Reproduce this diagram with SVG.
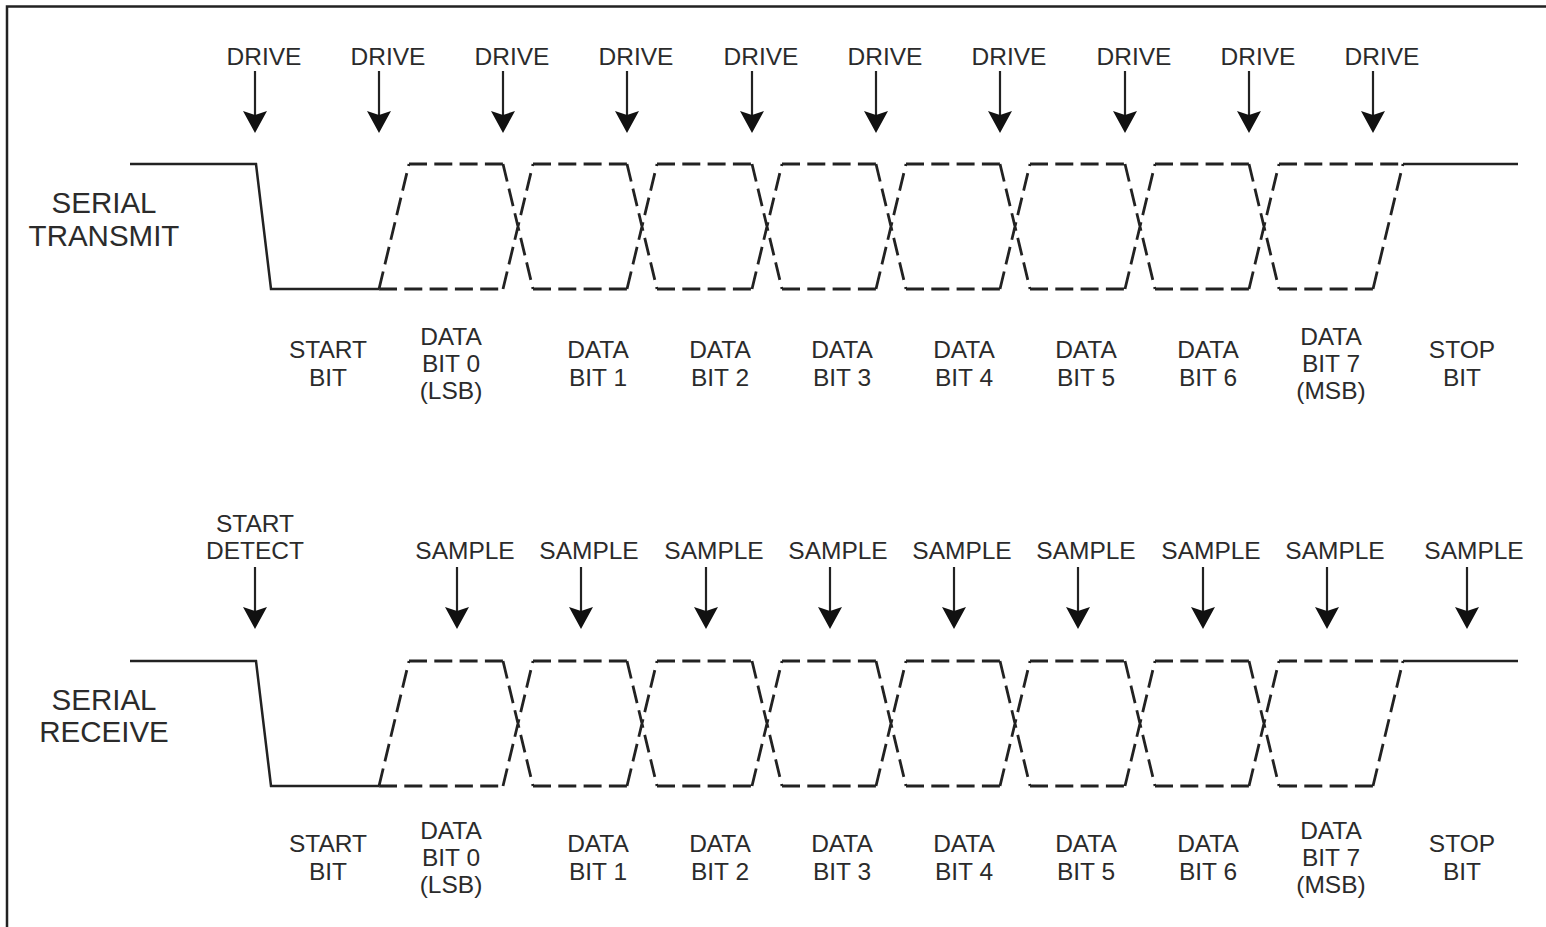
<svg xmlns="http://www.w3.org/2000/svg" xmlns:xlink="http://www.w3.org/1999/xlink" width="1546" height="927" viewBox="0 0 1546 927">
<style>
.t{font-family:"Liberation Sans",Arial,sans-serif;font-size:24.5px;fill:#2b2b2b;text-anchor:middle}
.s{font-family:"Liberation Sans",Arial,sans-serif;font-size:29.5px;fill:#2b2b2b;text-anchor:middle}
.solid{fill:none;stroke:#222;stroke-width:2.5;stroke-linejoin:miter}
.dash{fill:none;stroke:#222;stroke-width:2.8;stroke-dasharray:18 7.3}
.al{stroke:#222;stroke-width:2.2}
.ah{fill:#111}
.frame{fill:none;stroke:#222;stroke-width:2.5}
</style>
<defs>
<g id="arrowTop"><line class="al" x1="0" y1="71" x2="0" y2="116"/><path class="ah" d="M-12,111 L0,115 L12,111 L0,133 Z"/></g>
<g id="arrowBot"><line class="al" x1="0" y1="567" x2="0" y2="612"/><path class="ah" d="M-12,607 L0,611 L12,607 L0,629 Z"/></g>
<g id="dashTrain">
<path class="dash" d="M379,289 L409,164 M409,164 H503 M533,164 H627 M657,164 H752 M782,164 H876 M906,164 H1000 M1030,164 H1125 M1155,164 H1249 M1279,164 H1403 M379,289 H503 M533,289 H627 M657,289 H752 M782,289 H876 M906,289 H1000 M1030,289 H1125 M1155,289 H1249 M1279,289 H1373 M1373,289 L1403,164 M503,164 L533,289 M503,289 L533,164 M627,164 L657,289 M627,289 L657,164 M752,164 L782,289 M752,289 L782,164 M876,164 L906,289 M876,289 L906,164 M1000,164 L1030,289 M1000,289 L1030,164 M1125,164 L1155,289 M1125,289 L1155,164 M1249,164 L1279,289 M1249,289 L1279,164"/>
<path class="solid" d="M130,164 H256 L271,289 H379 M1403,164 H1518"/>
</g>
</defs>
<g id="frame"><path class="frame" d="M7,927 V6.5 H1546"/></g>

<g id="connectors">
<g id="wave-transmit"><use xlink:href="#dashTrain"/></g>
<g id="wave-receive"><use xlink:href="#dashTrain" transform="translate(0,497)"/></g>
<g id="drive-arrows">
<use xlink:href="#arrowTop" x="255"/><use xlink:href="#arrowTop" x="379"/><use xlink:href="#arrowTop" x="503"/><use xlink:href="#arrowTop" x="627"/><use xlink:href="#arrowTop" x="752"/><use xlink:href="#arrowTop" x="876"/><use xlink:href="#arrowTop" x="1000"/><use xlink:href="#arrowTop" x="1125"/><use xlink:href="#arrowTop" x="1249"/><use xlink:href="#arrowTop" x="1373"/>
</g>
<g id="sample-arrows">
<use xlink:href="#arrowBot" x="255"/><use xlink:href="#arrowBot" x="457"/><use xlink:href="#arrowBot" x="581"/><use xlink:href="#arrowBot" x="706"/><use xlink:href="#arrowBot" x="830"/><use xlink:href="#arrowBot" x="954"/><use xlink:href="#arrowBot" x="1078"/><use xlink:href="#arrowBot" x="1203"/><use xlink:href="#arrowBot" x="1327"/><use xlink:href="#arrowBot" x="1467"/>
</g>
</g>

<g id="label-serial-transmit"><text class="s" x="104" y="213">SERIAL</text><text class="s" x="104" y="246">TRANSMIT</text></g>
<g id="label-serial-receive"><text class="s" x="104" y="710">SERIAL</text><text class="s" x="104" y="742">RECEIVE</text></g>

<g id="drive-labels">
<text class="t" x="264" y="65">DRIVE</text><text class="t" x="388" y="65">DRIVE</text><text class="t" x="512" y="65">DRIVE</text><text class="t" x="636" y="65">DRIVE</text><text class="t" x="761" y="65">DRIVE</text><text class="t" x="885" y="65">DRIVE</text><text class="t" x="1009" y="65">DRIVE</text><text class="t" x="1134" y="65">DRIVE</text><text class="t" x="1258" y="65">DRIVE</text><text class="t" x="1382" y="65">DRIVE</text>
</g>

<g id="start-detect"><text class="t" x="255" y="532">START</text><text class="t" x="255" y="559">DETECT</text></g>
<g id="sample-labels">
<text class="t" x="465" y="559">SAMPLE</text><text class="t" x="589" y="559">SAMPLE</text><text class="t" x="714" y="559">SAMPLE</text><text class="t" x="838" y="559">SAMPLE</text><text class="t" x="962" y="559">SAMPLE</text><text class="t" x="1086" y="559">SAMPLE</text><text class="t" x="1211" y="559">SAMPLE</text><text class="t" x="1335" y="559">SAMPLE</text><text class="t" x="1474" y="559">SAMPLE</text>
</g>

<g id="bit-labels-transmit">
<g id="tx-start"><text class="t" x="328" y="358">START</text><text class="t" x="328" y="386">BIT</text></g>
<g id="tx-b0"><text class="t" x="451" y="345">DATA</text><text class="t" x="451" y="372">BIT 0</text><text class="t" x="451" y="399">(LSB)</text></g>
<g id="tx-b1"><text class="t" x="598" y="358">DATA</text><text class="t" x="598" y="386">BIT 1</text></g>
<g id="tx-b2"><text class="t" x="720" y="358">DATA</text><text class="t" x="720" y="386">BIT 2</text></g>
<g id="tx-b3"><text class="t" x="842" y="358">DATA</text><text class="t" x="842" y="386">BIT 3</text></g>
<g id="tx-b4"><text class="t" x="964" y="358">DATA</text><text class="t" x="964" y="386">BIT 4</text></g>
<g id="tx-b5"><text class="t" x="1086" y="358">DATA</text><text class="t" x="1086" y="386">BIT 5</text></g>
<g id="tx-b6"><text class="t" x="1208" y="358">DATA</text><text class="t" x="1208" y="386">BIT 6</text></g>
<g id="tx-b7"><text class="t" x="1331" y="345">DATA</text><text class="t" x="1331" y="372">BIT 7</text><text class="t" x="1331" y="399">(MSB)</text></g>
<g id="tx-stop"><text class="t" x="1462" y="358">STOP</text><text class="t" x="1462" y="386">BIT</text></g>
</g>

<g id="bit-labels-receive">
<g id="rx-start"><text class="t" x="328" y="852">START</text><text class="t" x="328" y="880">BIT</text></g>
<g id="rx-b0"><text class="t" x="451" y="839">DATA</text><text class="t" x="451" y="866">BIT 0</text><text class="t" x="451" y="893">(LSB)</text></g>
<g id="rx-b1"><text class="t" x="598" y="852">DATA</text><text class="t" x="598" y="880">BIT 1</text></g>
<g id="rx-b2"><text class="t" x="720" y="852">DATA</text><text class="t" x="720" y="880">BIT 2</text></g>
<g id="rx-b3"><text class="t" x="842" y="852">DATA</text><text class="t" x="842" y="880">BIT 3</text></g>
<g id="rx-b4"><text class="t" x="964" y="852">DATA</text><text class="t" x="964" y="880">BIT 4</text></g>
<g id="rx-b5"><text class="t" x="1086" y="852">DATA</text><text class="t" x="1086" y="880">BIT 5</text></g>
<g id="rx-b6"><text class="t" x="1208" y="852">DATA</text><text class="t" x="1208" y="880">BIT 6</text></g>
<g id="rx-b7"><text class="t" x="1331" y="839">DATA</text><text class="t" x="1331" y="866">BIT 7</text><text class="t" x="1331" y="893">(MSB)</text></g>
<g id="rx-stop"><text class="t" x="1462" y="852">STOP</text><text class="t" x="1462" y="880">BIT</text></g>
</g>
</svg>
